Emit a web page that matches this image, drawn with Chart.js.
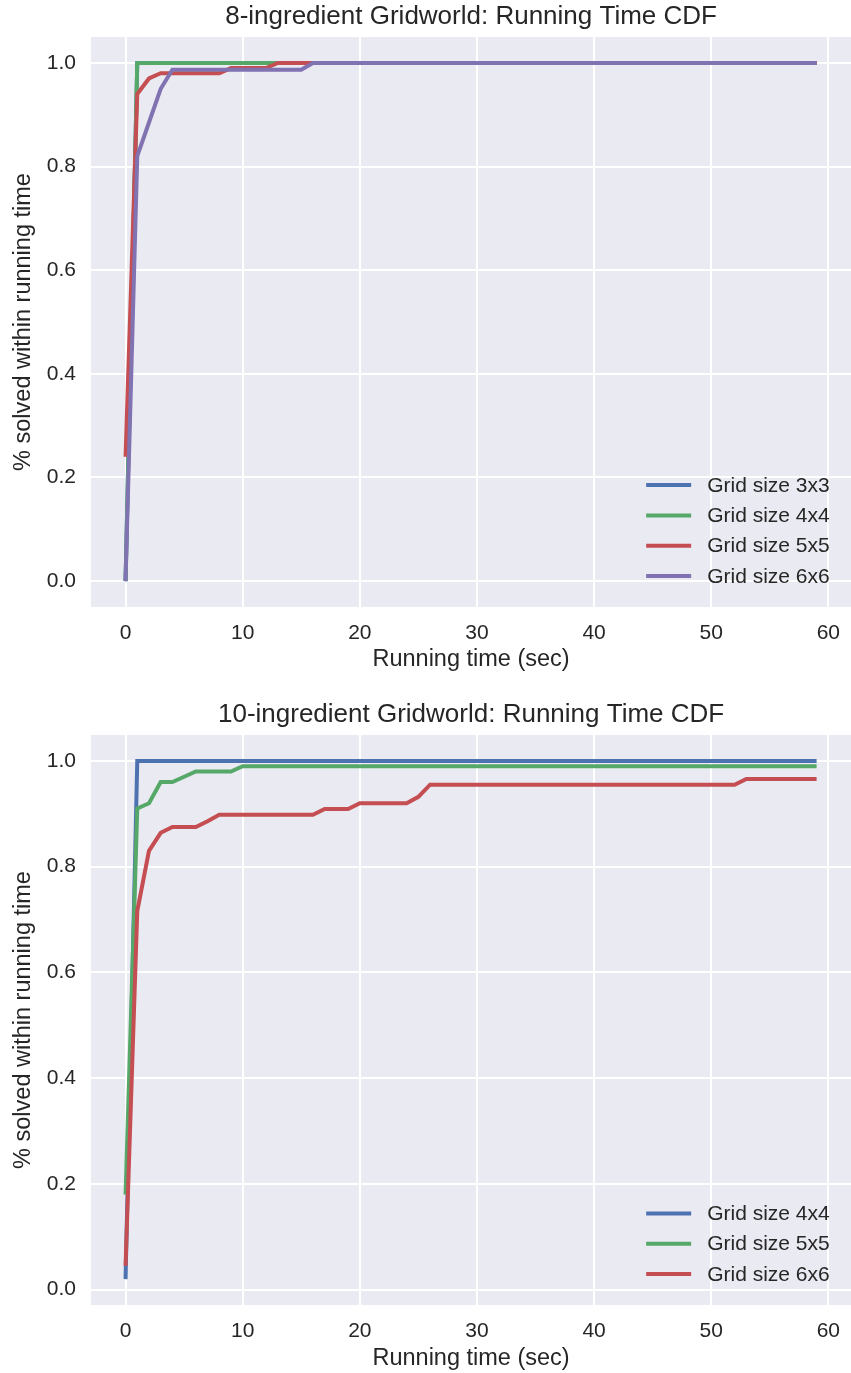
<!DOCTYPE html>
<html>
<head>
<meta charset="utf-8">
<script src="https://cdn.jsdelivr.net/npm/chart.js@4.4.1/dist/chart.umd.min.js"></script>
<style>
html, body { margin: 0; padding: 0; background: #ffffff; overflow: hidden; }
#wrap { position: relative; width: 851px; height: 1373px; overflow: hidden; }
canvas { position: absolute; left: 0; }
</style>
</head>
<body>
<div id="wrap">
  <canvas id="topChart" width="854" height="680" style="top:0px"></canvas>
  <canvas id="bottomChart" width="854" height="693" style="top:680px"></canvas>
</div>
<script>
// x positions (running time in seconds)
const seconds = [
  0, 1, 2, 3, 4, 5, 6, 7, 8, 9,
  10, 11, 12, 13, 14, 15, 16, 17, 18, 19,
  20, 21, 22, 23, 24, 25, 26, 27, 28, 29,
  30, 31, 32, 33, 34, 35, 36, 37, 38, 39,
  40, 41, 42, 43, 44, 45, 46, 47, 48, 49,
  50, 51, 52, 53, 54, 55, 56, 57, 58, 59
];
const xTicks = [0, 10, 20, 30, 40, 50, 60];
const yTicks = [0.0, 0.2, 0.4, 0.6, 0.8, 1.0];

// 8-ingredient gridworld
const labels8 = ['Grid size 3x3', 'Grid size 4x4', 'Grid size 5x5', 'Grid size 6x6'];
const grid3_8 = [
  0, 1, 1, 1, 1, 1, 1, 1, 1, 1,
  1, 1, 1, 1, 1, 1, 1, 1, 1, 1,
  1, 1, 1, 1, 1, 1, 1, 1, 1, 1,
  1, 1, 1, 1, 1, 1, 1, 1, 1, 1,
  1, 1, 1, 1, 1, 1, 1, 1, 1, 1,
  1, 1, 1, 1, 1, 1, 1, 1, 1, 1
];
const grid4_8 = [
  0, 1, 1, 1, 1, 1, 1, 1, 1, 1,
  1, 1, 1, 1, 1, 1, 1, 1, 1, 1,
  1, 1, 1, 1, 1, 1, 1, 1, 1, 1,
  1, 1, 1, 1, 1, 1, 1, 1, 1, 1,
  1, 1, 1, 1, 1, 1, 1, 1, 1, 1,
  1, 1, 1, 1, 1, 1, 1, 1, 1, 1
];
const grid5_8 = [
  0.24, 0.94, 0.97, 0.98, 0.98, 0.98, 0.98, 0.98, 0.98, 0.99,
  0.99, 0.99, 0.99, 1, 1, 1, 1, 1, 1, 1,
  1, 1, 1, 1, 1, 1, 1, 1, 1, 1,
  1, 1, 1, 1, 1, 1, 1, 1, 1, 1,
  1, 1, 1, 1, 1, 1, 1, 1, 1, 1,
  1, 1, 1, 1, 1, 1, 1, 1, 1, 1
];
const grid6_8 = [
  0, 0.82, 0.885, 0.95, 0.987, 0.987, 0.987, 0.987, 0.987, 0.987,
  0.987, 0.987, 0.987, 0.987, 0.987, 0.987, 1, 1, 1, 1,
  1, 1, 1, 1, 1, 1, 1, 1, 1, 1,
  1, 1, 1, 1, 1, 1, 1, 1, 1, 1,
  1, 1, 1, 1, 1, 1, 1, 1, 1, 1,
  1, 1, 1, 1, 1, 1, 1, 1, 1, 1
];

// 10-ingredient gridworld
const labels10 = ['Grid size 4x4', 'Grid size 5x5', 'Grid size 6x6'];
const grid4_10 = [
  0.02, 1, 1, 1, 1, 1, 1, 1, 1, 1,
  1, 1, 1, 1, 1, 1, 1, 1, 1, 1,
  1, 1, 1, 1, 1, 1, 1, 1, 1, 1,
  1, 1, 1, 1, 1, 1, 1, 1, 1, 1,
  1, 1, 1, 1, 1, 1, 1, 1, 1, 1,
  1, 1, 1, 1, 1, 1, 1, 1, 1, 1
];
const grid5_10 = [
  0.18, 0.91, 0.92, 0.96, 0.96, 0.97, 0.98, 0.98, 0.98, 0.98,
  0.99, 0.99, 0.99, 0.99, 0.99, 0.99, 0.99, 0.99, 0.99, 0.99,
  0.99, 0.99, 0.99, 0.99, 0.99, 0.99, 0.99, 0.99, 0.99, 0.99,
  0.99, 0.99, 0.99, 0.99, 0.99, 0.99, 0.99, 0.99, 0.99, 0.99,
  0.99, 0.99, 0.99, 0.99, 0.99, 0.99, 0.99, 0.99, 0.99, 0.99,
  0.99, 0.99, 0.99, 0.99, 0.99, 0.99, 0.99, 0.99, 0.99, 0.99
];
const grid6_10 = [
  0.045, 0.716, 0.83, 0.864, 0.875, 0.875, 0.875, 0.886, 0.898, 0.898,
  0.898, 0.898, 0.898, 0.898, 0.898, 0.898, 0.898, 0.909, 0.909, 0.909,
  0.92, 0.92, 0.92, 0.92, 0.92, 0.932, 0.955, 0.955, 0.955, 0.955,
  0.955, 0.955, 0.955, 0.955, 0.955, 0.955, 0.955, 0.955, 0.955, 0.955,
  0.955, 0.955, 0.955, 0.955, 0.955, 0.955, 0.955, 0.955, 0.955, 0.955,
  0.955, 0.955, 0.955, 0.966, 0.966, 0.966, 0.966, 0.966, 0.966, 0.966
];

const textColor = '#262626';
const fontFamily = '"Liberation Sans", Arial, sans-serif';
Chart.defaults.font.family = fontFamily;
Chart.defaults.color = textColor;

// seaborn-ish background behind the plot area
const bgPlugin = {
  id: 'plotBg',
  beforeDraw(chart) {
    const a = chart.chartArea;
    const c = chart.ctx;
    c.save();
    c.fillStyle = '#EAEAF2';
    c.fillRect(a.left, a.top, a.right - a.left, a.bottom - a.top);
    c.restore();
  }
};

// title centred over the plot area (not the whole canvas)
const axesTitle = {
  id: 'axesTitle',
  afterDraw(chart, args, opts) {
    const a = chart.chartArea;
    const c = chart.ctx;
    c.save();
    c.font = '26px ' + fontFamily;
    c.fillStyle = textColor;
    c.textAlign = 'center';
    c.textBaseline = 'middle';
    c.fillText(opts.text, (a.left + a.right) / 2, opts.y);
    c.restore();
  }
};

// legend in the lower right corner, inside the axes
const innerLegend = {
  id: 'innerLegend',
  afterDatasetsDraw(chart) {
    const a = chart.chartArea;
    const c = chart.ctx;
    const sets = chart.data.datasets;
    const rowH = 30.3;
    c.save();
    c.font = '21px ' + fontFamily;
    c.textBaseline = 'middle';
    c.textAlign = 'left';
    for (let i = 0; i < sets.length; i++) {
      const y = a.bottom - 31 - (sets.length - 1 - i) * rowH;
      c.strokeStyle = sets[i].borderColor;
      c.lineWidth = 4;
      c.beginPath();
      c.moveTo(a.right - 205, y);
      c.lineTo(a.right - 160, y);
      c.stroke();
      c.fillStyle = textColor;
      c.fillText(sets[i].label, a.right - 144, y + 1);
    }
    c.restore();
  }
};

function makeChart(id, title, names, series, colors, yMin, lay) {
  const datasets = [];
  for (let i = 0; i < series.length; i++) {
    datasets.push({
      label: names[i],
      data: series[i],
      borderColor: colors[i],
      borderWidth: 4,
      pointRadius: 0,
      tension: 0,
      fill: false,
      order: series.length - i   // later series on top, like matplotlib
    });
  }
  return new Chart(document.getElementById(id), {
    type: 'line',
    data: { labels: seconds, datasets: datasets },
    options: {
      responsive: false,
      animation: false,
      devicePixelRatio: 1,
      layout: { padding: { left: 0, right: 0, top: lay.plotTop, bottom: 0 } },
      plugins: {
        legend: { display: false },
        tooltip: { enabled: false },
        title: { display: false },
        axesTitle: { text: title, y: lay.titleY }
      },
      scales: {
        x: {
          type: 'linear',
          min: -2.95,
          max: 61.95,
          afterBuildTicks: s => { s.ticks = xTicks.map(v => ({ value: v })); },
          afterFit: s => { s.height = lay.xHeight; },
          ticks: { font: { size: 21 }, color: textColor, padding: 14, maxRotation: 0 },
          grid: { color: '#ffffff', lineWidth: 2, drawTicks: false },
          border: { display: false },
          title: {
            display: true,
            text: 'Running time (sec)',
            color: textColor,
            font: { size: 23.5 },
            padding: { top: 0, bottom: lay.xTitlePad }
          }
        },
        y: {
          min: yMin - (1 - yMin) * 0.05,
          max: 1 + (1 - yMin) * 0.05,
          afterBuildTicks: s => { s.ticks = yTicks.map(v => ({ value: v })); },
          afterFit: s => { s.width = 91; },
          ticks: { font: { size: 21 }, color: textColor, padding: 15, callback: v => v.toFixed(1) },
          grid: { color: '#ffffff', lineWidth: 2, drawTicks: false },
          border: { display: false },
          title: {
            display: true,
            text: '% solved within running time',
            color: textColor,
            font: { size: 23.5 },
            padding: { top: 9, bottom: 0 }
          }
        }
      }
    },
    plugins: [bgPlugin, innerLegend, axesTitle]
  });
}

const deep = ['#4C72B0', '#55A868', '#C44E52', '#8172B2'];

makeChart('topChart', '8-ingredient Gridworld: Running Time CDF', labels8,
  [grid3_8, grid4_8, grid5_8, grid6_8], deep, 0,
  { plotTop: 37, titleY: 17, xHeight: 73, xTitlePad: 6 });

makeChart('bottomChart', '10-ingredient Gridworld: Running Time CDF', labels10,
  [grid4_10, grid5_10, grid6_10], deep, 0.02,
  { plotTop: 55, titleY: 35, xHeight: 68, xTitlePad: 0 });
</script>
</body>
</html>
